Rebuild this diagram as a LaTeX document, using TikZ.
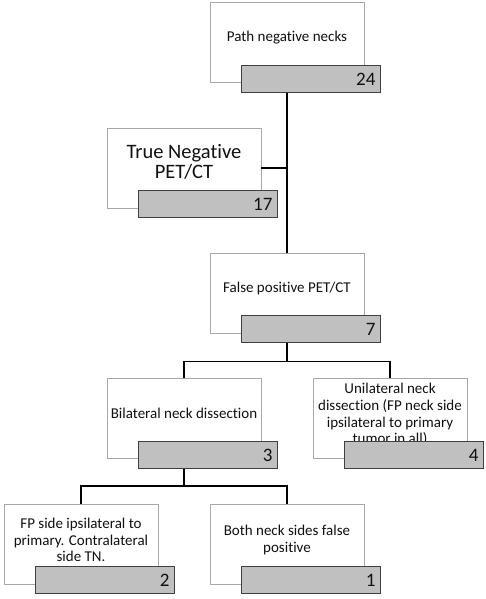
\documentclass[tikz,border=0pt]{standalone}
\usepackage{fontspec}
\setmainfont{Carlito}[Ligatures={NoCommon}]
\usetikzlibrary{calc}
\definecolor{boxgray}{HTML}{A8A8A8}
\definecolor{bardark}{HTML}{404040}
\definecolor{barfill}{HTML}{C0C0C0}
\definecolor{txtcol}{HTML}{111111}
\tikzset{
 wbox/.style={draw=boxgray, line width=0.8pt, fill=white, minimum width=154pt, minimum height=80pt, inner sep=0pt},
 gbar/.style={draw=bardark, fill=barfill, line width=1pt, minimum width=139pt, minimum height=27pt, inner sep=0pt, anchor=north west},
 num/.style={anchor=east, inner sep=0pt, xshift=-5pt, font=\fontsize{19}{20}\selectfont, text=txtcol},
 txt/.style={align=center, font=\fontsize{15}{16.8}\selectfont, text=txtcol, inner sep=0pt},
 bigtxt/.style={align=center, font=\fontsize{20.5}{20.5}\selectfont, text=txtcol, inner sep=0pt},
 conn/.style={line width=1.6pt, black}
}
\begin{document}
\begin{tikzpicture}[x=1pt,y=-1pt]
\useasboundingbox (0,0) rectangle (486,599);
% white boxes
\node[wbox] (b1) at (287,42.5) {};
\node[wbox] (b2) at (184,168) {};
\node[wbox] (b3) at (287,293) {};
\node[wbox] (b4) at (184,418.5) {};
\node[wbox] (b5) at (390,418.5) {};
\node[wbox] (b6) at (81,544) {};
\node[wbox] (b7) at (287,544) {};
% texts
\node[txt] (t1) at ([yshift=5pt]b1.center) {Path negative necks};
\node[bigtxt] (t2) at ([yshift=6pt]b2.center) {True Negative\\PET/CT};
\node[txt] (t3) at ([yshift=5pt]b3.center) {False positive PET/CT};
\node[txt] (t4) at ([yshift=5pt]b4.center) {Bilateral neck dissection};
\node[txt] (t5) at ([yshift=4pt]b5.center) {Unilateral neck\\dissection (FP neck side\\ipsilateral to primary\\tumor in all)};
\node[txt] (t6) at ([yshift=4pt]b6.center) {FP side ipsilateral to\\primary. Contralateral\\side TN.};
\node[txt] (t7) at ([yshift=4pt]b7.center) {Both neck sides false\\positive};
% connectors
\draw[conn] (b1.south) -- (b3.north);
\coordinate (j1) at (b1.south |- b2.east);
\draw[conn] (b2.east) -- (j1);
\coordinate (j2) at ($(b3.south)+(0,28)$);
\draw[conn] (b3.south) -- (j2);
\draw[conn] (b4.north) |- (j2) -| (b5.north);
\coordinate (j3) at ($(b4.south)+(0,27)$);
\draw[conn] (b4.south) -- (j3);
\draw[conn] (b6.north) |- (j3) -| (b7.north);
% gray bars
\node[gbar] (r1) at ([xshift=31pt,yshift=18pt]b1.south west) {};
\node[gbar] (r2) at ([xshift=31pt,yshift=18pt]b2.south west) {};
\node[gbar] (r3) at ([xshift=31pt,yshift=18pt]b3.south west) {};
\node[gbar] (r4) at ([xshift=31pt,yshift=18pt]b4.south west) {};
\node[gbar] (r5) at ([xshift=31pt,yshift=18pt]b5.south west) {};
\node[gbar] (r6) at ([xshift=31pt,yshift=18pt]b6.south west) {};
\node[gbar] (r7) at ([xshift=31pt,yshift=18pt]b7.south west) {};
% numbers
\node[num] (n1) at (r1.east) {24};
\node[num] (n2) at (r2.east) {17};
\node[num] (n3) at (r3.east) {7};
\node[num] (n4) at (r4.east) {3};
\node[num] (n5) at (r5.east) {4};
\node[num] (n6) at (r6.east) {2};
\node[num] (n7) at (r7.east) {1};
\end{tikzpicture}
\end{document}
